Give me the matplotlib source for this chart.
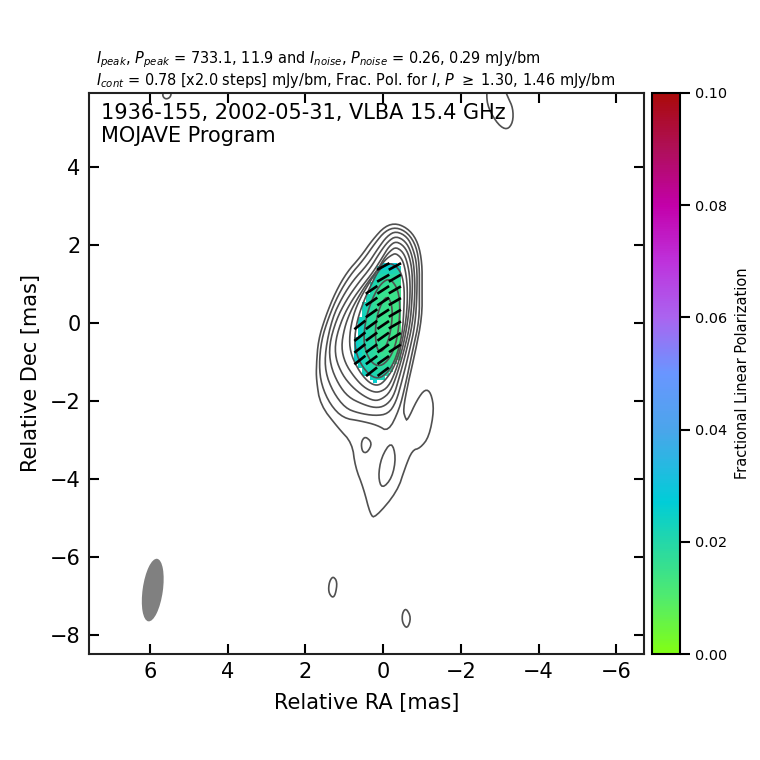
import numpy as np
import matplotlib
matplotlib.use('Agg')
import matplotlib.pyplot as plt
from matplotlib.colors import LinearSegmentedColormap
from matplotlib.patches import Ellipse, PathPatch
from matplotlib.path import Path

# Contours: (RA, Dec) vertices in mas, outer to inner
c1 = [(-0.36,2.56),(-0.69,2.38),(-0.90,2.05),(-1.00,1.54),(-1.00,0.92),(-1.00,0.15),(-0.82,-0.77),(-0.64,-1.54),(-0.51,-2.23),(-0.57,-2.44),(-0.62,-2.51),(-0.87,-1.97),(-1.08,-1.69),(-1.23,-1.79),(-1.31,-2.23),(-1.18,-2.92),(-0.95,-3.21),(-0.75,-3.26),(-0.57,-3.69),(-0.36,-4.33),(0.21,-5.00),(0.33,-4.92),(0.51,-4.23),(0.72,-3.69),(0.80,-3.08),(1.16,-2.69),(1.62,-2.10),(1.72,-1.46),(1.72,-1.08),(1.67,-0.44),(1.49,0.15),(1.23,0.79),(0.93,1.31),(0.59,1.69),(0.28,2.13),(-0.05,2.49)]
c2 = [(-0.33,2.46),(-0.64,2.31),(-0.85,1.97),(-0.93,1.49),(-0.93,0.85),(-0.93,0.08),(-0.75,-0.74),(-0.57,-1.59),(-0.41,-2.23),(-0.13,-2.79),(0.15,-2.62),(0.59,-2.51),(1.03,-2.44),(1.36,-2.10),(1.59,-1.59),(1.65,-1.08),(1.59,-0.44),(1.41,0.13),(1.16,0.72),(0.85,1.23),(0.51,1.62),(0.21,2.05),(-0.05,2.36)]
c3 = [(-0.33,2.36),(-0.62,2.21),(-0.77,1.90),(-0.87,1.49),(-0.87,0.72),(-0.82,-0.05),(-0.67,-0.74),(-0.49,-1.46),(-0.33,-2.03),(-0.13,-2.33),(0.21,-2.38),(0.64,-2.31),(0.98,-2.18),(1.29,-1.77),(1.49,-1.26),(1.49,-0.69),(1.31,0.13),(1.05,0.67),(0.77,1.10),(0.41,1.49),(0.13,1.92),(-0.10,2.23)]
c4 = [(-0.33,2.23),(-0.57,2.10),(-0.72,1.82),(-0.80,1.41),(-0.82,0.72),(-0.75,-0.05),(-0.59,-0.74),(-0.41,-1.41),(-0.26,-1.90),(-0.05,-2.13),(0.21,-2.18),(0.54,-2.08),(0.90,-1.90),(1.16,-1.56),(1.36,-1.08),(1.39,-0.56),(1.21,0.08),(0.95,0.59),(0.64,1.03),(0.33,1.41),(0.08,1.82),(-0.13,2.10)]
c5 = [(-0.33,2.10),(-0.54,1.97),(-0.67,1.72),(-0.75,1.31),(-0.75,0.72),(-0.69,-0.05),(-0.54,-0.69),(-0.36,-1.31),(-0.18,-1.77),(0.03,-1.95),(0.23,-2.00),(0.51,-1.87),(0.80,-1.64),(1.05,-1.33),(1.23,-0.90),(1.23,-0.44),(1.05,0.13),(0.80,0.59),(0.54,0.95),(0.26,1.31),(0.03,1.67),(-0.15,1.97)]
c6 = [(-0.33,1.95),(-0.51,1.82),(-0.62,1.56),(-0.69,1.15),(-0.69,0.59),(-0.62,-0.05),(-0.49,-0.69),(-0.31,-1.26),(-0.13,-1.64),(0.08,-1.77),(0.26,-1.77),(0.51,-1.64),(0.75,-1.38),(0.98,-1.03),(1.08,-0.62),(1.00,-0.13),(0.85,0.28),(0.64,0.67),(0.41,1.03),(0.15,1.36),(-0.03,1.67),(-0.18,1.85)]
c7 = [(-0.33,1.79),(-0.49,1.64),(-0.57,1.36),(-0.62,0.97),(-0.62,0.46),(-0.57,-0.05),(-0.44,-0.69),(-0.28,-1.13),(-0.10,-1.41),(0.08,-1.59),(0.26,-1.59),(0.46,-1.44),(0.67,-1.15),(0.85,-0.74),(0.87,-0.31),(0.77,0.21),(0.59,0.64),(0.36,1.03),(0.15,1.36),(-0.05,1.62),(-0.21,1.74)]
c8 = [(-0.18,1.56),(-0.44,1.36),(-0.54,0.97),(-0.54,0.46),(-0.49,-0.31),(-0.33,-0.90),(-0.13,-1.26),(0.13,-1.44),(0.39,-1.31),(0.64,-0.95),(0.75,-0.49),(0.67,0.08),(0.49,0.59),(0.28,1.05),(0.08,1.41)]
c9 = [(-0.18,1.15),(-0.39,0.85),(-0.44,0.33),(-0.36,-0.44),(-0.18,-0.90),(0.08,-1.13),(0.33,-1.00),(0.51,-0.56),(0.46,0.08),(0.28,0.64),(0.05,1.03)]
c10 = [(-0.10,0.72),(-0.23,0.46),(-0.23,0.03),(-0.13,-0.49),(0.05,-0.77),(0.18,-0.64),(0.21,-0.10),(0.10,0.41)]
isl1 = [(0.46,-2.90),(0.28,-3.08),(0.41,-3.33),(0.54,-3.31),(0.57,-3.05)]
isl2 = [(-0.21,-3.03),(-0.33,-3.44),(-0.23,-3.97),(0.03,-4.26),(0.13,-3.95),(0.05,-3.44)]
isl3 = [(-2.65,5.90),(-2.70,5.51),(-2.96,5.08),(-3.19,4.95),(-3.34,5.15),(-3.34,5.51),(-3.21,5.79),(-3.08,6.10),(-2.75,6.23)]
isl4 = [(5.68,5.90),(5.66,5.79),(5.58,5.74),(5.48,5.79),(5.45,5.90),(5.55,6.10)]
isl5 = [(1.29,-6.49),(1.18,-6.64),(1.23,-6.97),(1.31,-7.05),(1.41,-6.90),(1.39,-6.64)]
isl6 = [(-0.59,-7.31),(-0.72,-7.56),(-0.62,-7.85),(-0.49,-7.69),(-0.49,-7.44)]
contours = [c1,c2,c3,c4,c5,c6,c7,c8,c9,c10,isl1,isl2,isl3,isl4,isl5,isl6]

# Fractional polarization x 1000; 0 = blanked. Columns RA 0.8 .. -0.5, rows Dec 1.5 .. -1.5
frac_ra = [0.8,0.7,0.6,0.5,0.4,0.3,0.2,0.1,0.0,-0.1,-0.2,-0.3,-0.4,-0.5]
frac_dec = [1.5,1.4,1.3,1.2,1.1,1.0,0.9,0.8,0.7,0.6,0.5,0.4,0.3,0.2,0.1,0.0,-0.1,-0.2,-0.3,-0.4,-0.5,-0.6,-0.7,-0.8,-0.9,-1.0,-1.1,-1.2,-1.3,-1.4,-1.5]
frac_milli = [
 [0,0,0,0,0,0,0,0,27,28,28,27,0,0],
 [0,0,0,0,0,0,0,24,25,26,26,25,24,0],
 [0,0,0,0,0,0,0,22,22,22,22,21,21,0],
 [0,0,0,0,0,0,22,21,20,19,19,19,19,0],
 [0,0,0,0,0,0,22,20,18,17,17,17,17,0],
 [0,0,0,0,0,23,21,18,17,17,16,16,16,0],
 [0,0,0,0,0,21,19,17,16,16,16,15,15,0],
 [0,0,0,0,0,21,18,17,16,16,15,15,15,0],
 [0,0,0,0,22,20,18,16,16,15,15,15,15,0],
 [0,0,0,0,22,19,17,16,16,15,15,15,15,0],
 [0,0,0,23,21,19,17,16,16,15,15,14,15,0],
 [0,0,0,23,21,19,17,16,16,15,15,14,14,0],
 [0,0,0,23,20,18,17,16,15,15,14,14,14,0],
 [0,0,0,23,20,18,17,16,15,15,14,14,14,0],
 [0,0,24,22,19,18,17,16,15,15,14,14,13,0],
 [0,0,24,22,19,18,17,16,15,15,14,14,13,0],
 [0,0,24,22,19,18,17,16,15,15,15,14,13,0],
 [0,0,24,22,20,18,17,16,16,15,15,14,13,0],
 [0,0,24,22,20,18,17,16,16,16,15,14,13,0],
 [0,25,23,21,20,19,17,16,16,16,15,14,13,0],
 [0,25,23,21,20,19,18,17,16,16,15,14,13,0],
 [0,25,23,21,20,19,18,17,16,16,15,14,13,0],
 [0,25,23,21,20,19,18,17,16,16,15,14,14,0],
 [0,25,24,21,20,19,18,17,16,16,16,15,14,0],
 [0,25,24,22,20,19,18,18,17,16,16,15,15,0],
 [0,25,24,22,21,20,19,18,17,17,17,16,0,0],
 [0,0,24,23,21,20,19,19,18,18,18,0,0,0],
 [0,0,0,23,22,21,20,19,19,19,19,0,0,0],
 [0,0,0,24,23,22,21,20,20,20,0,0,0,0],
 [0,0,0,0,0,24,23,22,22,0,0,0,0,0],
 [0,0,0,0,0,0,26,0,0,0,0,0,0,0],
]

# Polarization sticks
stick_ra =  [0,-0.3, 0,-0.3, 0.3,0,-0.3, 0.3,0,-0.3, 0.3,0,-0.3, 0.6,0.3,0,-0.3, 0.6,0.3,0,-0.3, 0.6,0.3,0,-0.3, 0.6,0.3,0, 0.3,0]
stick_dec = [1.45,1.45, 1.15,1.15, 0.85,0.85,0.85, 0.55,0.55,0.55, 0.25,0.25,0.25, -0.05,-0.05,-0.05,-0.05, -0.35,-0.35,-0.35,-0.35, -0.65,-0.65,-0.65,-0.65, -0.95,-0.95,-0.95, -1.25,-1.25]
stick_pa = [-62,-62, -60,-60, -56,-57,-60, -56,-57,-60, -55,-57,-60, -52,-54,-56,-60, -52,-54,-55,-58, -52,-54,-55,-57, -52,-54,-55, -52,-53]

cmap_stops = [(0.00,'#82ff14'),(0.10,'#50eb6e'),(0.20,'#23d7aa'),(0.27,'#00cdd7'),(0.40,'#4ba5eb'),(0.50,'#6996ff'),(0.60,'#aa64f0'),(0.70,'#be32dc'),(0.80,'#c300aa'),(0.90,'#af0f5a'),(1.00,'#aa0a0a')]
cbar_ticks = [0.00,0.02,0.04,0.06,0.08,0.10]
x_ticks = [6,4,2,0,-2,-4,-6]
y_ticks = [4,2,0,-2,-4,-6,-8]
title1 = r'$I_{peak}$, $P_{peak}$ = 733.1, 11.9 and $I_{noise}$, $P_{noise}$ = 0.26, 0.29 mJy/bm'
title2 = r'$I_{cont}$ = 0.78 [x2.0 steps] mJy/bm, Frac. Pol. for $I$, $P$ $\geq$ 1.30, 1.46 mJy/bm'
beam_ra, beam_dec, beam_major, beam_minor, beam_pa = 5.93, -6.85, 1.62, 0.52, 8


def smooth(points, n=2):
    p = np.array(points, float)
    for _ in range(n):
        q = np.roll(p, -1, axis=0)
        p = np.column_stack([0.75*p + 0.25*q, 0.25*p + 0.75*q]).reshape(-1, 2)
    return np.vstack([p, p[:1]])


W = 760.0
fig = plt.figure(figsize=(7.6, 7.6), dpi=100)
ax = fig.add_axes([89/W, 1-654/W, 555/W, 561/W])
ax.set_xlim(7.57, -6.71)
ax.set_ylim(-8.49, 5.90)

cmap = LinearSegmentedColormap.from_list('pol', cmap_stops, N=256)
F = np.array(frac_milli, float)/1000.0
F = np.ma.masked_where(F == 0, F)
mesh = ax.pcolormesh(frac_ra, frac_dec, F, cmap=cmap, vmin=0, vmax=0.1, shading='nearest', zorder=1)

for c in contours:
    ax.add_patch(PathPatch(Path(smooth(c)), fill=False, ec='#505050', lw=1.2, zorder=2))

for ra, dec, pa in zip(stick_ra, stick_dec, stick_pa):
    L = 0.18
    s, co = np.sin(np.radians(pa)), np.cos(np.radians(pa))
    ax.plot([ra-L*s, ra+L*s], [dec-L*co, dec+L*co], color='k', lw=1.9, solid_capstyle='butt', zorder=3)

ax.add_patch(Ellipse((beam_ra, beam_dec), beam_minor, beam_major, angle=beam_pa, fc='#808080', ec='none', zorder=2))

ax.set_xticks(x_ticks)
ax.set_yticks(y_ticks)
ax.tick_params(direction='in', top=True, right=True, length=7.5, width=1.5, labelsize=15, pad=6)
for s in ax.spines.values():
    s.set_linewidth(1.5)
    s.set_color('#222222')
ax.set_xlabel('Relative RA [mas]', fontsize=15, labelpad=8)
ax.set_ylabel('Relative Dec [mas]', fontsize=15, labelpad=6)

fig.text(101/W, 1-119/W, '1936-155, 2002-05-31, VLBA 15.4 GHz', fontsize=15, va='baseline', zorder=5)
fig.text(101/W, 1-142/W, 'MOJAVE Program', fontsize=15, va='baseline', zorder=5)
fig.text(96/W, 1-63/W, title1, fontsize=10.45, va='baseline')
fig.text(96/W, 1-85/W, title2, fontsize=10.45, va='baseline')

cax = fig.add_axes([652/W, 1-654/W, 28/W, 561/W])
cb = fig.colorbar(mesh, cax=cax)
cb.set_ticks(cbar_ticks)
cb.set_ticklabels([f'{t:.2f}' for t in cbar_ticks])
cb.ax.tick_params(labelsize=10.4, length=7, width=1.5, direction='out')
cb.outline.set_linewidth(1.5)
cb.set_label('Fractional Linear Polarization', fontsize=10.5, labelpad=6)

fig.savefig('out.png', dpi=100)
